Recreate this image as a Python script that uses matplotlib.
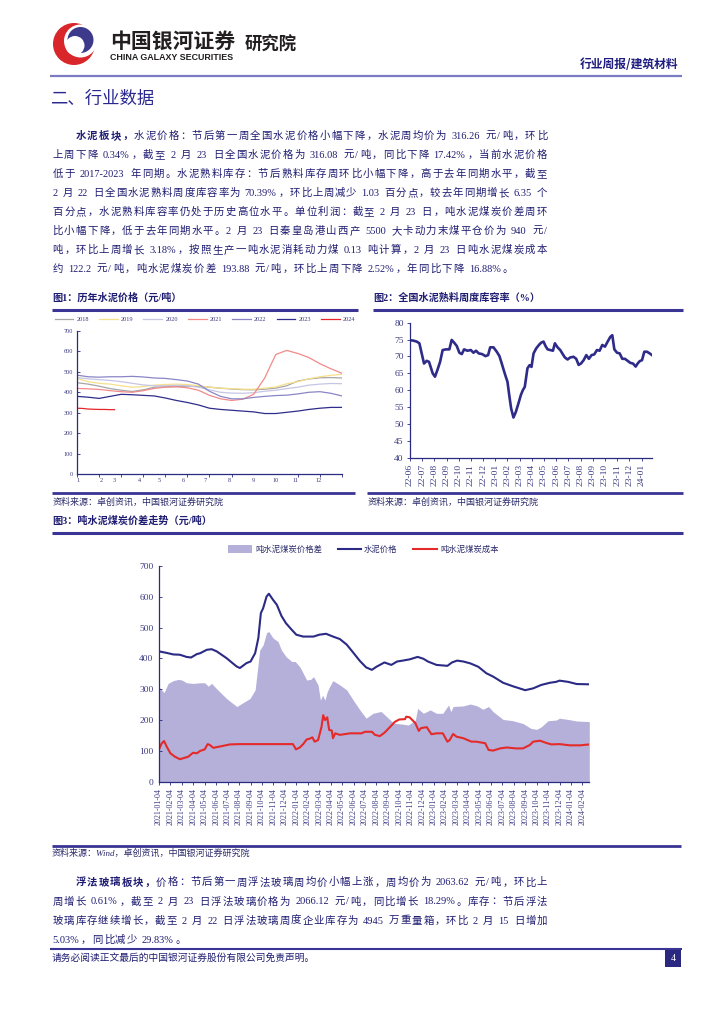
import numpy as np
import matplotlib
matplotlib.use('Agg')
import matplotlib.pyplot as plt
from matplotlib.lines import Line2D
from matplotlib.patches import Rectangle, Circle

# ---------------- data ----------------
# fig1: cement price by year, half-month steps (month 1 .. month 12 end)
m1 = np.arange(25) * 0.5
y2018 = [447, 440, 430, 418, 410, 404, 412, 425, 427, 428, 430, 428, 425, 420, 416, 413, 412, 415, 420, 432, 455, 465, 471, 472, 470]
y2019 = [468, 452, 444, 440, 432, 425, 428, 435, 438, 440, 438, 432, 425, 420, 418, 415, 415, 420, 426, 442, 452, 466, 476, 483, 488]
y2020 = [472, 466, 462, 458, 452, 444, 436, 432, 432, 434, 432, 425, 412, 400, 396, 395, 398, 405, 410, 418, 425, 435, 440, 443, 442]
y2021 = [419, 417, 414, 408, 403, 400, 408, 419, 425, 427, 422, 410, 385, 368, 360, 366, 390, 470, 585, 605, 590, 570, 540, 515, 493]
y2022 = [484, 476, 474, 476, 476, 478, 475, 470, 468, 462, 455, 440, 405, 380, 368, 368, 375, 380, 384, 386, 392, 400, 403, 395, 382]
y2023 = [380, 376, 370, 380, 390, 388, 385, 382, 372, 360, 350, 338, 322, 316, 312, 308, 304, 296, 296, 302, 308, 316, 322, 326, 326]
m2024 = [0, 0.25, 0.5, 0.75, 1.0, 1.25, 1.5, 1.7]
y2024 = [322, 321, 318, 317, 316, 316, 315, 315]
years = ['2018', '2019', '2020', '2021', '2022', '2023', '2024']
year_colors = ['#a6a6a6', '#f6e08c', '#c6c6e4', '#f28a8a', '#8a86c6', '#2f2c8a', '#e8262a']
f1_xlab = ['1', '2', '3', '4', '5', '6', '7', '8', '9', '10', '11', '12']
f1_xlab_pos = [0.05, 1.1, 1.7, 2.85, 3.7, 4.8, 5.8, 6.9, 8.0, 9.0, 9.9, 10.95]

# fig2: clinker inventory ratio (%), months since 2022-06
t2 = [0, 0.27, 0.55, 0.77, 0.96, 1.15, 1.37, 1.56, 1.73, 1.86, 2.05, 2.25, 2.47, 2.68, 2.96, 3.23,
      3.42, 3.62, 3.84, 4.05, 4.25, 4.44, 4.71, 4.99, 5.21, 5.42, 5.64, 5.92, 6.19, 6.41, 6.58, 6.85,
      7.12, 7.34, 7.53, 7.73, 7.86, 8.0, 8.16, 8.30, 8.49, 8.68, 8.90, 9.10, 9.26, 9.42, 9.64, 9.81,
      9.97, 10.14, 10.36, 10.58, 10.77, 10.96, 11.12, 11.29, 11.51, 11.73, 11.89, 12.11, 12.33, 12.55,
      12.71, 12.93, 13.15, 13.42, 13.64, 13.84, 14.03, 14.25, 14.47, 14.68, 14.90, 15.12, 15.34, 15.56,
      15.78, 16.0, 16.22, 16.44, 16.6, 16.77, 16.99, 17.21, 17.42, 17.64, 17.86, 18.08, 18.3, 18.52,
      18.68, 18.85, 19.04, 19.23, 19.45, 19.67, 19.86]
v2 = [74.8, 74.7, 74.4, 73.9, 70.9, 67.9, 68.7, 68.4, 66.5, 65.0, 64.0, 66.0, 68.4, 71.9, 72.1, 72.1,
      74.9, 74.1, 73.1, 71.1, 70.7, 72.1, 71.7, 71.9, 71.1, 71.7, 70.9, 70.7, 70.1, 70.4, 72.7, 72.7,
      71.4, 70.1, 67.9, 65.5, 64.0, 62.5, 58.1, 54.6, 51.9, 53.5, 56.1, 58.6, 60.0, 61.0, 66.5, 67.4,
      66.9, 70.9, 72.4, 73.4, 74.1, 74.4, 73.1, 72.1, 71.9, 71.7, 73.9, 72.7, 71.9, 70.6, 69.7, 69.1,
      69.7, 69.9, 69.3, 67.5, 67.9, 68.9, 70.4, 69.3, 70.4, 70.6, 71.9, 71.7, 73.4, 72.9, 74.4, 75.8,
      76.3, 72.1, 71.1, 70.9, 69.3, 69.3, 68.7, 68.1, 67.9, 67.0, 67.9, 68.6, 68.9, 71.4, 71.4, 70.9, 70.4]
f2_xlab = ['%02d-%02d' % (22 + (i + 5) // 12, (i + 5) % 12 + 1) for i in range(20)]

# fig3: months since 2021-01-04
p_t = [0, 0.67, 1.25, 1.83, 2.4, 2.8, 3.3, 3.6, 4.17, 4.6, 5.04, 5.9, 6.78, 7.07, 7.65, 8.0, 8.4, 8.68,
       8.9, 9.1, 9.4, 9.6, 9.97, 10.3, 10.7, 11.1, 11.6, 12.0, 12.6, 13.5, 14.0, 14.6, 15.2, 15.8, 16.4,
       16.97, 17.55, 18.1, 18.6, 19.0, 19.7, 20.3, 20.8, 21.3, 21.9, 22.6, 23.1, 23.5, 24.25, 25.2, 25.6,
       26.05, 26.6, 27.2, 27.9, 28.6, 29.2, 30.07, 30.9, 32.0, 32.7, 33.4, 34.15, 34.7, 35.0, 35.75, 36.5, 37.6]
p_v = [423, 418, 413, 412, 405, 403, 414, 417, 428, 430, 423, 401, 374, 369, 385, 390, 417, 466,
       547, 563, 601, 610, 590, 574, 538, 514, 493, 477, 471, 471, 477, 480, 471, 463, 445,
       419, 392, 371, 363, 373, 387, 379, 390, 393, 397, 405, 399, 390, 379, 376, 387,
       393, 390, 384, 373, 352, 341, 321, 310, 297, 303, 314, 321, 324, 328, 324, 317, 316]
c_t = [0, 0.23, 0.44, 0.67, 1.0, 1.4, 1.83, 2.1, 2.55, 2.98, 3.3, 3.6, 4.0, 4.25, 4.45, 4.74, 5.3, 6.2,
       7.07, 11.7, 11.97, 12.3, 12.6, 12.9, 13.2, 13.4, 13.6, 13.9, 14.2, 14.35, 14.5, 14.7, 14.87, 15.1,
       15.2, 15.4, 15.8, 16.7, 17.7, 18.0, 18.6, 18.87, 19.3, 19.7, 20.2, 20.6, 21.0, 21.5, 21.6, 21.9,
       22.4, 22.7, 22.9, 23.4, 23.8, 24.25, 24.8, 25.2, 25.4, 25.7, 26.0, 26.6, 27.3, 27.7, 28.5, 28.8,
       29.2, 29.8, 30.4, 31.2, 31.8, 32.4, 32.7, 33.3, 33.9, 34.3, 35.0, 35.9, 36.8, 37.6]
c_v = [105, 124, 132, 114, 92, 81, 73, 76, 81, 94, 92, 100, 105, 122, 119, 110, 114, 121,
       122, 122, 105, 111, 122, 137, 140, 144, 130, 135, 178, 216, 200, 209, 168, 166,
       141, 157, 152, 157, 157, 162, 162, 152, 148, 159, 178, 194, 202, 203, 211, 209,
       190, 165, 174, 177, 154, 157, 157, 130, 135, 155, 146, 141, 130, 130, 125, 103,
       101, 108, 111, 108, 108, 119, 130, 133, 125, 121, 122, 118, 118, 121]
g_t = [0, 0.23, 0.44, 0.8, 1.25, 1.7, 2.0, 2.4, 2.98, 3.6, 4.0, 4.3, 4.6, 5.0, 5.9, 6.8, 7.2, 7.95,
       8.4, 8.6, 8.8, 9.1, 9.4, 9.6, 9.97, 10.4, 10.7, 11.1, 11.6, 11.9, 12.3, 12.6, 12.9, 13.25, 13.5,
       13.9, 14.1, 14.3, 14.5, 14.7, 14.9, 15.2, 15.8, 16.4, 16.97, 17.55, 18.1, 18.7, 19.4, 19.9, 20.5,
       21.2, 21.8, 22.4, 22.6, 23.1, 23.7, 24.25, 24.8, 25.3, 25.5, 25.7, 26.6, 27.2, 27.8, 28.3, 28.8,
       29.2, 30.07, 30.9, 31.8, 32.5, 33.0, 33.4, 34.0, 34.7, 35.0, 35.75, 36.5, 37.6]
g_v = [308, 298, 289, 319, 328, 332, 330, 321, 319, 321, 321, 310, 319, 303, 270, 244, 253, 270,
       298, 362, 427, 444, 484, 487, 466, 455, 427, 406, 390, 390, 373, 352, 330, 332, 341,
       314, 265, 281, 265, 292, 308, 328, 314, 298, 265, 233, 206, 222, 228, 211, 190,
       187, 184, 200, 238, 222, 233, 222, 222, 249, 227, 244, 246, 252, 246, 235, 244,
       227, 202, 198, 189, 173, 170, 178, 198, 200, 206, 202, 197, 195]
f3_xlab = ['%d-%02d-04' % (2021 + i // 12, i % 12 + 1) for i in range(38)]

p1_head = '水泥板块，'
p1_lines = [
    '水泥价格：节后第一周全国水泥价格小幅下降，水泥周均价为 316.26 元/吨，环比',
    '上周下降 0.34%，截至 2 月 23 日全国水泥价格为 316.08 元/吨，同比下降 17.42%，当前水泥价格',
    '低于 2017-2023 年同期。水泥熟料库存：节后熟料库存周环比小幅下降，高于去年同期水平，截至',
    '2 月 22 日全国水泥熟料周度库容率为 70.39%，环比上周减少 1.03 百分点，较去年同期增长 6.35 个',
    '百分点，水泥熟料库容率仍处于历史高位水平。单位利润：截至 2 月 23 日，吨水泥煤炭价差周环',
    '比小幅下降，低于去年同期水平。2 月 23 日秦皇岛港山西产 5500 大卡动力末煤平仓价为 940 元/',
    '吨，环比上周增长 3.18%，按照生产一吨水泥消耗动力煤 0.13 吨计算，2 月 23 日吨水泥煤炭成本',
    '约 122.2 元/吨，吨水泥煤炭价差 193.88 元/吨，环比上周下降 2.52%，年同比下降 16.88%。',
]
p2_head = '浮法玻璃板块，'
p2_lines = [
    '价格：节后第一周浮法玻璃周均价小幅上涨，周均价为 2063.62 元/吨，环比上',
    '周增长 0.61%，截至 2 月 23 日浮法玻璃价格为 2066.12 元/吨，同比增长 18.29%。库存：节后浮法',
    '玻璃库存继续增长，截至 2 月 22 日浮法玻璃周度企业库存为 4945 万重量箱，环比 2 月 15 日增加',
    '5.03%，同比减少 29.83%。',
]

# ---------------- page ----------------
W, H = 724, 1024
NAVY = '#1f1d72'
LINE = '#3a3494'
TICK = '#3a3a82'
CJK = 'Noto Sans CJK SC'
SERIF = 'Liberation Serif'
MIX = [SERIF, CJK]

fig = plt.figure(figsize=(W / 100, H / 100), dpi=100)
rend = fig.canvas.get_renderer()


def fx(x):
    return x / W


def fy(y):
    return 1 - y / H


def put(x, y, s, size, color=NAVY, weight='normal', ha='left', va='center', family=MIX, **kw):
    return fig.text(fx(x), fy(y), s, fontsize=size, color=color, fontweight=weight,
                    ha=ha, va=va, family=family, **kw)


def hline(x0, x1, y, lw, color=LINE):
    fig.add_artist(Line2D([fx(x0), fx(x1)], [fy(y), fy(y)], transform=fig.transFigure,
                          lw=lw, color=color, solid_capstyle='butt'))


def box(l, t, r, b):
    return fig.add_axes([fx(l), fy(b), (r - l) / W, (b - t) / H])


def split(s):
    out, buf = [], ''
    for ch in s:
        if ch.isascii() and ch != ' ':
            buf += ch
            continue
        if buf:
            out.append(buf)
            buf = ''
        out.append(ch)
    if buf:
        out.append(buf)
    return out


def para(head, lines, x0, x1, y0, lead, size, indent):
    em = size * 100 / 72
    gaps = []
    for i, line in enumerate(lines):
        toks = [(t, True) for t in head] if i == 0 else []
        toks += [(t, False) for t in split(line)]
        xs = x0 + (indent if i == 0 else 0)
        base = y0 + i * lead + 0.36 * em
        items = []
        for t, b in toks:
            if t == ' ':
                items.append((None, 0.28 * em, t))
            elif t.isascii():
                tx = put(0, base, t, size, family=SERIF, va='baseline')
                items.append((tx, tx.get_window_extent(rend).width + 0.4, t))
            else:
                tx = put(0, base, t, size, family=CJK, va='baseline',
                         weight='bold' if b else 'light')
                items.append((tx, em, t))
        natural = sum(w for _, w, _ in items)
        if i < len(lines) - 1:
            gap = (x1 - xs - natural) / (len(items) - 1)
            gaps.append(gap)
        else:
            gap = np.mean(gaps) if gaps else 0.5
        x = xs
        for tx, w, t in items:
            if tx is not None:
                if t.isascii():
                    tx.set_x(fx(x))
                elif t in '，。：；、）':
                    tx.set_x(fx(x + 0.04 * em))
                elif t == '（':
                    tx.set_x(fx(x + 0.96 * em))
                    tx.set_ha('right')
                else:
                    tx.set_x(fx(x + w / 2))
                    tx.set_ha('center')
            x += w + gap


# header: logo swirl built from stacked discs
lg = fig.add_axes([fx(48), fy(68), 54 / W, 48 / H])
lg.set_xlim(0, 54)
lg.set_ylim(0, 48)
lg.axis('off')
lg.add_patch(Circle((26, 24), 21, color='#d9262a', lw=0))
lg.add_patch(Circle((32.5, 27), 16.5, color='white', lw=0))
lg.add_patch(Circle((32.5, 28), 13, color='#3d3a8c', lw=0))
lg.add_patch(Circle((27, 22.5), 9.5, color='white', lw=0))
put(110, 41, '中国银河证券', 15, color='#231f20', weight='bold', family=CJK)
put(110, 57, 'CHINA GALAXY SECURITIES', 6.4, color='#231f20', weight='bold', family='Liberation Sans')
put(245, 45, '研究院', 12.5, color='#231f20', weight='bold', family=CJK)
put(678, 65, '行业周报/建筑材料', 8.5, color='#1f1d80', weight='bold', ha='right', family=CJK)
hline(50, 682, 75.5, 1.6, '#7c7cc4')
put(50, 98.5, '二、行业数据', 12.5, color='#2a2890', family=CJK)

para(p1_head, p1_lines, 52.5, 547, 135, 19.05, 7.5, 23)

# figure titles
put(52, 297.5, '图1：历年水泥价格（元/吨）', 7.3, weight='bold')
put(373, 297.5, '图2：全国水泥熟料周度库容率（%）', 7.3, weight='bold')
hline(52, 358, 310, 2.2)
hline(373, 683, 310, 2.2)

# ---- fig1
ax1 = box(77, 331, 342, 474)
series = [y2018, y2019, y2020, y2021, y2022, y2023]
handles = []
for ys, lab, col in zip(series, years[:6], year_colors[:6]):
    handles += ax1.plot(m1, ys, color=col, lw=0.9, label=lab)
handles += ax1.plot(m2024, y2024, color=year_colors[6], lw=0.9, label=years[6])
ax1.set_xlim(0, 12)
ax1.set_ylim(0, 700)
ax1.set_yticks(range(0, 701, 100))
ax1.set_xticks(f1_xlab_pos)
ax1.set_xticklabels(f1_xlab)
ax1.set_xticks(range(13), minor=True)
for s in ['top', 'right']:
    ax1.spines[s].set_visible(False)
for s in ['left', 'bottom']:
    ax1.spines[s].set_color('#2a2a80')
    ax1.spines[s].set_linewidth(0.9)
ax1.tick_params(axis='y', direction='in', length=2, width=0.6, color='#2a2a80', labelsize=4.5,
                labelcolor=TICK, pad=3)
ax1.tick_params(axis='x', which='major', length=0, labelsize=4.5, labelcolor=TICK, pad=3)
ax1.tick_params(axis='x', which='minor', direction='out', length=2, width=0.6, color='#2a2a80')
for lbl in ax1.get_xticklabels() + ax1.get_yticklabels():
    lbl.set_family(SERIF)
fig.legend(handles=handles, loc='center', bbox_to_anchor=(fx(205), fy(319)), ncol=7, frameon=False,
           handlelength=3.0, handletextpad=0.5, columnspacing=1.6,
           prop={'family': SERIF, 'size': 4.5}, labelcolor=TICK)

hline(52, 355, 493, 2.0)
put(53, 502, '资料来源：卓创资讯，中国银河证券研究院', 6.5, color='#2a2a6a', style='italic')

# ---- fig2
ax2 = box(410, 322.7, 652, 457.7)
ax2.plot(t2, v2, color='#2e2c88', lw=1.9)
ax2.set_xlim(0, 19.86)
ax2.set_ylim(40, 80)
ax2.set_yticks(range(40, 81, 5))
ax2.set_xticks(range(20))
ax2.set_xticklabels(f2_xlab, rotation=90)
for s in ['top', 'right']:
    ax2.spines[s].set_visible(False)
for s in ['left', 'bottom']:
    ax2.spines[s].set_color('#2a2a80')
    ax2.spines[s].set_linewidth(0.9)
ax2.tick_params(direction='out', length=2.5, width=0.6, color='#2a2a80', labelsize=6.8,
                labelcolor=TICK, pad=2)
for lbl in ax2.get_xticklabels() + ax2.get_yticklabels():
    lbl.set_family(SERIF)

hline(367, 683, 493, 2.0)
put(368, 502, '资料来源：卓创资讯，中国银河证券研究院', 6.5, color='#2a2a6a', style='italic')

# ---- fig3
put(52.5, 520.7, '图3：吨水泥煤炭价差走势（元/吨）', 7.3, weight='bold')
hline(52, 683, 532.7, 2.2)

fig.add_artist(Rectangle((fx(228), fy(553)), 24 / W, 8 / H, transform=fig.transFigure,
                         color='#b4b0d9', lw=0))
put(255, 549, '吨水泥煤炭价格差', 6, color='#2a2a6a', family=CJK)
fig.add_artist(Line2D([fx(338), fx(361)], [fy(549), fy(549)], transform=fig.transFigure,
                      color='#2b2a85', lw=1.5))
put(364, 549, '水泥价格', 6, color='#2a2a6a', family=CJK)
fig.add_artist(Line2D([fx(413), fx(437)], [fy(549), fy(549)], transform=fig.transFigure,
                      color='#e52a2a', lw=1.5))
put(440, 549, '吨水泥煤炭成本', 6, color='#2a2a6a', family=CJK)

ax3 = box(159, 566, 589.3, 781.7)
ax3.fill_between(g_t, g_v, 0, color='#b4b0d9', lw=0)
ax3.plot(p_t, p_v, color='#2b2a85', lw=1.5)
ax3.plot(c_t, c_v, color='#e52a2a', lw=1.5)
ax3.set_xlim(0, 37.6)
ax3.set_ylim(0, 700)
ax3.set_yticks(range(0, 701, 100))
ax3.set_xticks(range(38))
ax3.set_xticklabels(f3_xlab, rotation=90)
for s in ['top', 'right']:
    ax3.spines[s].set_visible(False)
for s in ['left', 'bottom']:
    ax3.spines[s].set_color('#2a2a80')
    ax3.spines[s].set_linewidth(0.9)
ax3.tick_params(axis='y', direction='in', length=2.5, width=0.6, color='#2a2a80', labelsize=6.8,
                labelcolor=TICK, pad=4)
ax3.tick_params(axis='x', direction='out', length=2.5, width=0.6, color='#2a2a80', labelsize=5.8,
                labelcolor=TICK, pad=2)
for lbl in ax3.get_xticklabels() + ax3.get_yticklabels():
    lbl.set_family(SERIF)

hline(52, 681, 846, 2.0)
put(52, 853.5, '资料来源：Wind，卓创资讯，中国银河证券研究院', 6.5, color='#2a2a6a', style='italic')

para(p2_head, p2_lines, 52.5, 547, 881.7, 19.05, 7.5, 23)

# footer
hline(50, 682, 949, 1.5)
put(52, 957.5, '请务必阅读正文最后的中国银河证券股份有限公司免责声明。', 7, color=NAVY, family=CJK)
fig.add_artist(Rectangle((fx(665), fy(967)), 16 / W, 17 / H, transform=fig.transFigure,
                         color='#2a2880', lw=0))
put(673, 958.5, '4', 7, color='white', ha='center', family=SERIF)

fig.savefig('out.png', dpi=100)
